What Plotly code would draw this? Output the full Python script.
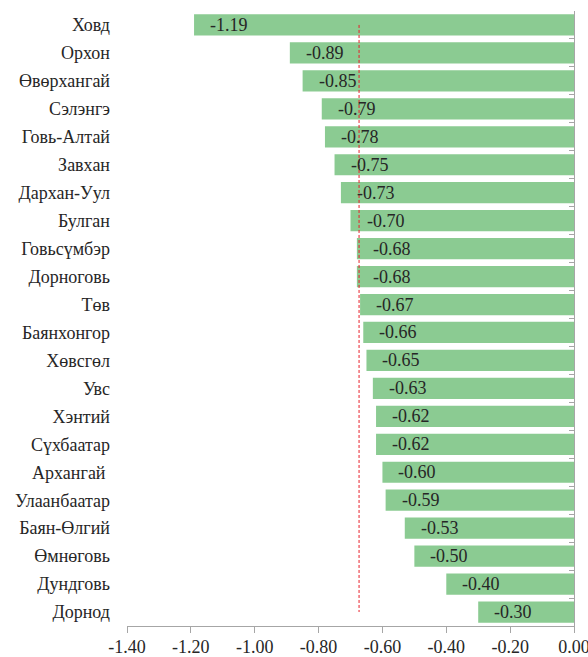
import plotly.graph_objects as go

regions = ["Ховд", "Орхон", "Өвөрхангай", "Сэлэнгэ", "Говь-Алтай", "Завхан", "Дархан-Уул",
           "Булган", "Говьсүмбэр", "Дорноговь", "Төв", "Баянхонгор", "Хөвсгөл", "Увс",
           "Хэнтий", "Сүхбаатар", "Архангай ", "Улаанбаатар", "Баян-Өлгий", "Өмнөговь",
           "Дундговь", "Дорнод"]
values = [-1.19, -0.89, -0.85, -0.79, -0.78, -0.75, -0.73, -0.70, -0.68, -0.68, -0.67,
          -0.66, -0.65, -0.63, -0.62, -0.62, -0.60, -0.59, -0.53, -0.50, -0.40, -0.30]
average = sum(values) / len(values)
x_ticks = [-1.40, -1.20, -1.00, -0.80, -0.60, -0.40, -0.20, 0.00]
x_tick_labels = ["-1.40", "-1.20", "-1.00", "-0.80", "-0.60", "-0.40", "-0.20", "0.00"]

FONT = "Liberation Serif, Times New Roman, serif"
TXT = "#262626"
FS = 18
n = len(regions)
y_range = [n - 0.5, -0.5]

fig = go.Figure()
fig.add_trace(go.Bar(
    x=values, y=regions, orientation="h",
    marker=dict(color="#8BCB92", line=dict(width=0)),
    width=0.76, hoverinfo="skip",
))
fig.add_trace(go.Scatter(
    x=[average, average], y=[regions[0], regions[-1]], mode="lines",
    line=dict(color="#E8202A", width=1, dash="3px,2px"), hoverinfo="skip",
))
fig.add_trace(go.Scatter(
    x=values, y=regions, yaxis="y2", mode="markers",
    marker=dict(opacity=0), hoverinfo="skip",
))

for r, v in zip(regions, values):
    fig.add_annotation(x=v, y=r, text=f"{v:.2f}", showarrow=False,
                       xanchor="left", xshift=14,
                       font=dict(family=FONT, size=FS, color=TXT))

fig.update_layout(
    width=588, height=657,
    margin=dict(l=127, r=14, t=11, b=31),
    paper_bgcolor="white", plot_bgcolor="white",
    showlegend=False,
    font=dict(family=FONT, size=FS, color=TXT),
    xaxis=dict(range=[-1.40, 0.0], tickvals=x_ticks, ticktext=x_tick_labels,
               showgrid=False, zeroline=False, showline=True, linecolor="#A6A6A6",
               linewidth=1, ticks="outside", ticklen=6, tickcolor="#A6A6A6",
               automargin=False, ticklabeloverflow="allow", ticklabelstandoff=-2,
               tickfont=dict(family=FONT, size=FS, color=TXT)),
    yaxis=dict(type="category", categoryorder="array", categoryarray=regions,
               range=y_range, showgrid=False, zeroline=False, showline=False,
               ticks="", ticklabelstandoff=16, automargin=False,
               tickfont=dict(family=FONT, size=FS, color=TXT)),
    yaxis2=dict(type="category", categoryorder="array", categoryarray=regions,
                range=y_range, overlaying="y", side="right", anchor="x",
                showticklabels=False, showgrid=False, zeroline=False, automargin=False,
                showline=True, linecolor="#A6A6A6", linewidth=1,
                ticks="inside", tickson="boundaries", ticklen=5, tickcolor="#A6A6A6"),
)

fig.write_html("out.html",
               config={"displayModeBar": False},
               post_script="document.body.style.margin='0';document.body.style.overflow='hidden';")
